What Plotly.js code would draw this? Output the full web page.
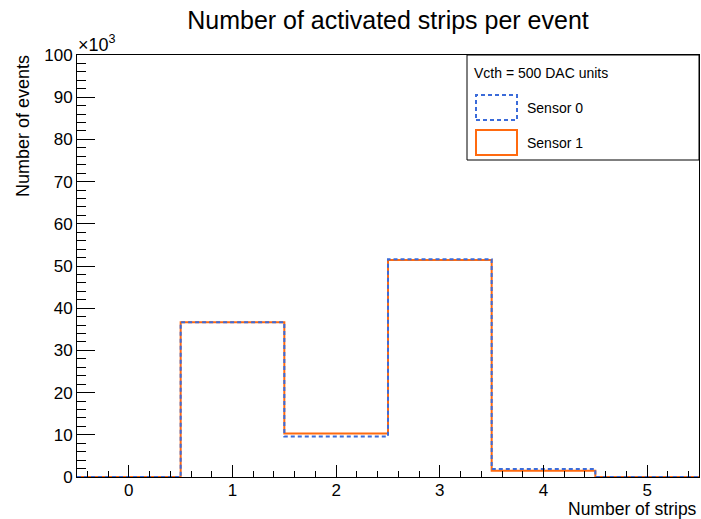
<!DOCTYPE html>
<html>
<head>
<meta charset="utf-8">
<script src="https://cdn.plot.ly/plotly-3.0.1.min.js"></script>
<style>html,body{margin:0;padding:0;background:#fff;}#chart{width:701px;height:519px;}</style>
</head>
<body>
<div id="chart"></div>
<script>
// Data (events in thousands, i.e. ×10^3)
const binCenters = [0, 1, 2, 3, 4, 5];
const sensor0 = [0, 36.7, 9.6, 51.6, 1.9, 0];
const sensor1 = [0, 36.7, 10.3, 51.4, 1.5, 0];
const seriesNames = ["Sensor 0", "Sensor 1"];
const legendHeader = "Vcth = 500 DAC units";
const binWidth = 1;

function stepXY(centers, vals) {
  const xs = [], ys = [];
  centers.forEach((c, i) => { xs.push(c - binWidth / 2); ys.push(vals[i]); });
  xs.push(centers[centers.length - 1] + binWidth / 2);
  ys.push(vals[vals.length - 1]);
  return {xs, ys};
}

const blue = '#3b6bd9';
const orange = '#ff6a0f';
const s1 = stepXY(binCenters, sensor1);
const s0 = stepXY(binCenters, sensor0);

const traces = [
  {x: s1.xs, y: s1.ys, type: 'scatter', mode: 'lines', name: seriesNames[1],
   line: {shape: 'hv', color: orange, width: 2}, showlegend: false, cliponaxis: false},
  {x: s0.xs, y: s0.ys, type: 'scatter', mode: 'lines', name: seriesNames[0],
   line: {shape: 'hv', color: blue, width: 2, dash: '4px,3px'}, showlegend: false, cliponaxis: false}
];

const font = {family: 'Liberation Sans, Arial, Helvetica, sans-serif', color: '#000'};
function px2x(p) { return (p - 77) / 622; }
function px2y(p) { return (477 - p) / 422; }

const layout = {
  width: 701, height: 519,
  margin: {l: 77, r: 2, t: 55, b: 42},
  paper_bgcolor: '#fff', plot_bgcolor: '#fff',
  font: Object.assign({}, font, {size: 17}),
  showlegend: false,
  title: {text: 'Number of activated strips per event', x: 388 / 701, xanchor: 'center',
          y: 1 - 20 / 519, yanchor: 'middle', font: Object.assign({}, font, {size: 25})},
  xaxis: {
    range: [-0.5, 5.5], tickmode: 'linear', tick0: 0, dtick: 1,
    ticks: 'inside', ticklen: 12, tickwidth: 1, tickcolor: '#000',
    minor: {ticks: 'inside', ticklen: 6, dtick: 0.2, tick0: 0, tickcolor: '#000', showgrid: false},
    showline: true, linecolor: '#000', linewidth: 1, mirror: true,
    showgrid: false, zeroline: false, ticklabelstandoff: -2,
    tickfont: Object.assign({}, font, {size: 17})
  },
  yaxis: {
    range: [0, 100], tickmode: 'linear', tick0: 0, dtick: 10,
    ticks: 'inside', ticklen: 18, tickwidth: 1, tickcolor: '#000',
    minor: {ticks: 'inside', ticklen: 9, dtick: 2, tick0: 0, tickcolor: '#000', showgrid: false},
    showline: true, linecolor: '#000', linewidth: 1, mirror: true,
    showgrid: false, zeroline: false,
    tickfont: Object.assign({}, font, {size: 17})
  },
  shapes: [
    {type: 'rect', xref: 'paper', yref: 'paper', x0: px2x(467), x1: 1, y0: px2y(160), y1: 1,
     line: {color: '#000', width: 1}, fillcolor: '#fff', layer: 'above'},
    {type: 'rect', xref: 'paper', yref: 'paper', x0: px2x(476), x1: px2x(517), y0: px2y(120), y1: px2y(95),
     line: {color: blue, width: 2, dash: '4px,3px'}, fillcolor: 'rgba(0,0,0,0)', layer: 'above'},
    {type: 'rect', xref: 'paper', yref: 'paper', x0: px2x(476), x1: px2x(517), y0: px2y(155), y1: px2y(130),
     line: {color: orange, width: 2}, fillcolor: 'rgba(0,0,0,0)', layer: 'above'}
  ],
  annotations: [
    {text: legendHeader, xref: 'paper', yref: 'paper', x: px2x(472), y: px2y(73),
     xanchor: 'left', yanchor: 'middle', showarrow: false, font: Object.assign({}, font, {size: 14})},
    {text: seriesNames[0], xref: 'paper', yref: 'paper', x: px2x(525), y: px2y(108),
     xanchor: 'left', yanchor: 'middle', showarrow: false, font: Object.assign({}, font, {size: 14})},
    {text: seriesNames[1], xref: 'paper', yref: 'paper', x: px2x(525), y: px2y(143),
     xanchor: 'left', yanchor: 'middle', showarrow: false, font: Object.assign({}, font, {size: 14})},
    {text: '×10<sup>3</sup>', xref: 'paper', yref: 'paper', x: px2x(76), y: px2y(57),
     xanchor: 'left', yanchor: 'bottom', showarrow: false, font: Object.assign({}, font, {size: 18})},
    {text: 'Number of events', xref: 'paper', yref: 'paper', x: px2x(23), y: px2y(53),
     xanchor: 'center', yanchor: 'top', textangle: -90, showarrow: false,
     font: Object.assign({}, font, {size: 18})},
    {text: 'Number of strips', xref: 'paper', yref: 'paper', x: px2x(699), y: px2y(509),
     xanchor: 'right', yanchor: 'middle', showarrow: false, font: Object.assign({}, font, {size: 17.5})}
  ]
};

Plotly.newPlot('chart', traces, layout, {staticPlot: true, displayModeBar: false});
</script>
</body>
</html>
